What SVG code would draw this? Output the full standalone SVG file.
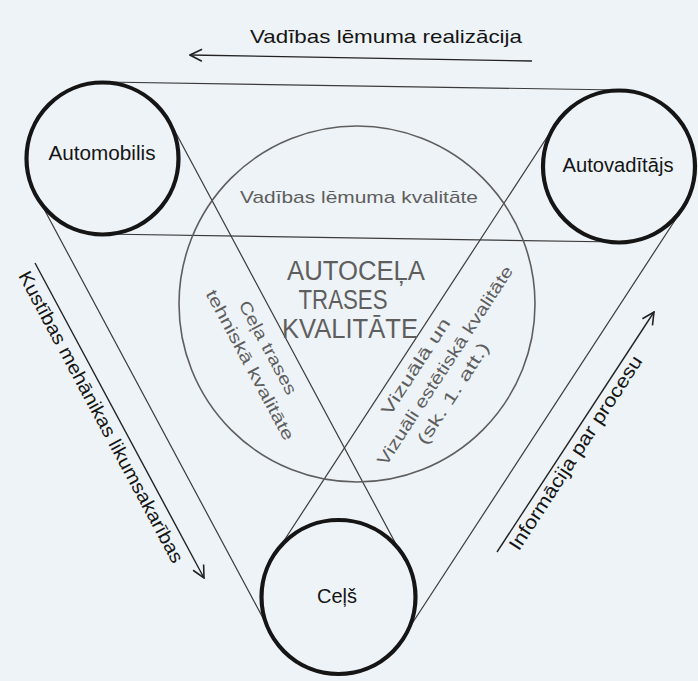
<svg xmlns="http://www.w3.org/2000/svg" width="698" height="681" viewBox="0 0 698 681">
<style>
.node circle{fill:none;stroke:#151515;stroke-width:4.2}
.core circle{fill:none;stroke:#5e5e5e;stroke-width:1.6}
.lbl{font-family:"Liberation Sans",Arial,sans-serif;font-size:20px;fill:#151515;text-anchor:middle}
.conn line{stroke:#3a3a3a;stroke-width:1.2}
.arr{stroke:#222;stroke-width:1.4;fill:none}
.atxt{font-family:"Liberation Sans",Arial,sans-serif;font-size:19px;fill:#151515}
.in{font-family:"Liberation Sans",Arial,sans-serif;font-size:17px;fill:#5e5e5e;text-anchor:middle}
.big{font-family:"Liberation Sans",Arial,sans-serif;font-size:27px;fill:#5e5e5e;text-anchor:middle}
</style>
<defs>
<marker id="chev" viewBox="0 0 14 14" refX="13" refY="7" markerWidth="14" markerHeight="14" markerUnits="userSpaceOnUse" orient="auto">
<path d="M1,1 L13,7 L1,13" fill="none" stroke="#222" stroke-width="1.6"/>
</marker>
</defs>
<rect width="698" height="681" fill="#eef3f8"/>

<g id="connectors" class="conn">
<line x1="104" y1="82" x2="620" y2="90"/>
<line x1="102" y1="234" x2="618" y2="242"/>
<line x1="170" y1="122" x2="405" y2="561"/>
<line x1="36" y1="194" x2="271" y2="633"/>
<line x1="683" y1="208" x2="402" y2="639"/>
<line x1="555" y1="125" x2="274" y2="556"/>
</g>

<g id="core" class="core">
<circle cx="357" cy="304" r="178"/>
<text class="in" x="359" y="203" textLength="238" lengthAdjust="spacingAndGlyphs">Vadības lēmuma kvalitāte</text>
<text class="big" x="356" y="280" textLength="138" lengthAdjust="spacingAndGlyphs">AUTOCEĻA</text>
<text class="big" x="343" y="309" textLength="89" lengthAdjust="spacingAndGlyphs">TRASES</text>
<text class="big" x="350" y="338" textLength="136" lengthAdjust="spacingAndGlyphs">KVALITĀTE</text>
<g transform="translate(170,122) rotate(61.8)">
<text class="in" x="245" y="26" textLength="104" lengthAdjust="spacingAndGlyphs">Ceļa trases</text>
<text class="in" x="252" y="50" textLength="168" lengthAdjust="spacingAndGlyphs">tehniskā kvalitāte</text>
</g>
<g transform="translate(274,556) rotate(-56.9)">
<text class="in" x="236" y="21" textLength="112" lengthAdjust="spacingAndGlyphs">Vizuālā un</text>
<text class="in" x="253" y="45" textLength="234" lengthAdjust="spacingAndGlyphs">Vizuāli estētiskā kvalitāte</text>
<text class="in" x="234" y="67" textLength="118" lengthAdjust="spacingAndGlyphs">(sk. 1. att.)</text>
</g>
</g>

<g id="automobilis" class="node">
<circle cx="102.5" cy="158.5" r="76"/>
<text class="lbl" x="102" y="160" textLength="107" lengthAdjust="spacingAndGlyphs">Automobilis</text>
</g>
<g id="autovaditajs" class="node">
<circle cx="619" cy="166.5" r="76"/>
<text class="lbl" x="618" y="172" textLength="111" lengthAdjust="spacingAndGlyphs">Autovadītājs</text>
</g>
<g id="cels" class="node">
<circle cx="338.5" cy="597" r="77"/>
<text class="lbl" x="337" y="603" textLength="40" lengthAdjust="spacingAndGlyphs">Ceļš</text>
</g>

<g id="arrows">
<line class="arr" x1="532" y1="61" x2="190" y2="55" marker-end="url(#chev)"/>
<text class="atxt" x="250" y="43" textLength="272" lengthAdjust="spacingAndGlyphs">Vadības lēmuma realizācija</text>
<line class="arr" x1="35" y1="263" x2="204" y2="578" marker-end="url(#chev)"/>
<text class="atxt" transform="translate(35,263) rotate(61.8)" x="3" y="21" textLength="328" lengthAdjust="spacingAndGlyphs">Kustības mehānikas likumsakarības</text>
<line class="arr" x1="497" y1="552" x2="654" y2="312" marker-end="url(#chev)"/>
<text class="atxt" transform="translate(497,552) rotate(-56.9)" x="12" y="18" textLength="228" lengthAdjust="spacingAndGlyphs">Informācija par procesu</text>
</g>
</svg>
